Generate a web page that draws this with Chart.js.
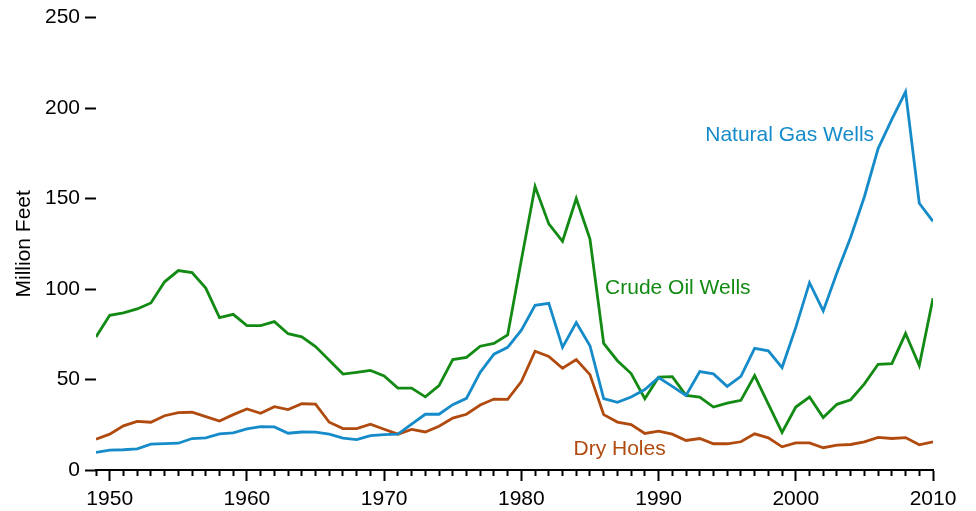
<!DOCTYPE html>
<html lang="en">
<head>
    <meta charset="UTF-8">
    <title>Footage Drilled</title>
    <script src="https://cdn.jsdelivr.net/npm/chart.js"></script>
    <style>
        body {
            margin: 0;
            background-color: #ffffff;
        }

        .chart-box {
            width: 976px;
            height: 511px;
        }
    </style>
</head>
<body>
    <div class="chart-box">
        <canvas id="footageChart"></canvas>
    </div>

    <script>
        // Years and footage (million feet)
        const years = [1949, 1950, 1951, 1952, 1953, 1954, 1955, 1956, 1957, 1958, 1959,
            1960, 1961, 1962, 1963, 1964, 1965, 1966, 1967, 1968, 1969,
            1970, 1971, 1972, 1973, 1974, 1975, 1976, 1977, 1978, 1979,
            1980, 1981, 1982, 1983, 1984, 1985, 1986, 1987, 1988, 1989,
            1990, 1991, 1992, 1993, 1994, 1995, 1996, 1997, 1998, 1999,
            2000, 2001, 2002, 2003, 2004, 2005, 2006, 2007, 2008, 2009, 2010];

        const crudeOil = [73.5, 85.5, 86.8, 89, 92.3, 104, 110.2, 109.1, 100.5, 84.2, 86,
            79.8, 79.8, 82, 75.3, 73.6, 68.2, 60.7, 53, 54, 55,
            52, 45.3, 45.3, 40.4, 46.6, 61, 62.2, 68.4, 70, 74.6,
            116, 156.6, 136, 126.4, 150, 127.6, 70, 60.4, 53.3, 39.4,
            51.3, 51.6, 41.2, 40.3, 34.8, 37, 38.5, 52.2, 36.4, 20.8,
            34.8, 40.3, 29, 36.3, 38.8, 47.6, 58.4, 58.8, 75.4, 57.7, 94.9];

        const naturalGas = [9.7, 11, 11.2, 11.7, 14.3, 14.6, 14.8, 17.4, 17.8, 20, 20.5,
            22.7, 24, 23.8, 20.3, 21, 20.9, 19.8, 17.6, 16.8, 19,
            19.6, 19.8, 25.3, 30.8, 30.8, 36.1, 39.6, 54, 64, 67.8,
            77.3, 91, 92.1, 67.8, 81.5, 68.7, 39.4, 37.4, 40.3, 44.5,
            51.1, 46.2, 41.2, 54.4, 53.1, 46.2, 51.8, 67.2, 65.9, 56.6,
            78.8, 103.5, 87.9, 109, 128.6, 151, 177.6, 193.8, 209, 147.4, 137.4];

        const dryHoles = [17, 19.8, 24.4, 26.9, 26.4, 30, 31.7, 31.9, 29.5, 27.1, 30.6,
            33.7, 31.3, 35, 33.4, 36.6, 36.4, 26.4, 22.9, 22.9, 25.3,
            22.5, 19.8, 22.4, 21, 24.2, 28.7, 30.8, 35.9, 39.2, 39,
            48.9, 65.6, 62.8, 56.2, 61, 52.7, 30.6, 26.5, 25.1, 20.2,
            21.5, 19.8, 16.3, 17.4, 14.5, 14.5, 15.6, 20, 17.8, 12.8,
            15, 15, 12.3, 13.7, 14.1, 15.6, 18, 17.4, 17.9, 13.9, 15.6];

        const seriesNames = ['Natural Gas Wells', 'Crude Oil Wells', 'Dry Holes'];
        const seriesColors = ['#168bc9', '#138a13', '#b04a0e'];
        const yTicks = [0, 50, 100, 150, 200, 250];

        // where each series name sits, in data units (year, value)
        const labelAnchors = [[1993.4, 185], [1986.1, 100.5], [1983.8, 11.5]];

        const FONT = 'Arial, "Liberation Sans", sans-serif';
        const FONT_SIZE = 21;

        const toPoints = values => values.map((v, i) => ({ x: years[i], y: v }));

        const seriesLabels = {
            id: 'seriesLabels',
            afterDatasetsDraw(chart) {
                const { ctx, scales } = chart;
                ctx.save();
                ctx.font = FONT_SIZE + 'px ' + FONT;
                ctx.textAlign = 'left';
                ctx.textBaseline = 'middle';
                seriesNames.forEach((name, i) => {
                    ctx.fillStyle = seriesColors[i];
                    ctx.fillText(name, scales.x.getPixelForValue(labelAnchors[i][0]),
                        scales.y.getPixelForValue(labelAnchors[i][1]));
                });
                ctx.restore();
            }
        };

        new Chart(document.getElementById('footageChart').getContext('2d'), {
            type: 'line',
            data: {
                datasets: [
                    { label: seriesNames[0], data: toPoints(naturalGas), borderColor: seriesColors[0] },
                    { label: seriesNames[1], data: toPoints(crudeOil), borderColor: seriesColors[1] },
                    { label: seriesNames[2], data: toPoints(dryHoles), borderColor: seriesColors[2] }
                ]
            },
            options: {
                responsive: true,
                maintainAspectRatio: false,
                animation: false,
                devicePixelRatio: 1,
                layout: { padding: { top: 15, right: 43, left: 0, bottom: 0 } },
                elements: {
                    point: { radius: 0 },
                    line: { borderWidth: 2.8, tension: 0, fill: false }
                },
                plugins: {
                    legend: { display: false },
                    tooltip: { enabled: false }
                },
                scales: {
                    x: {
                        type: 'linear',
                        min: years[0],
                        max: years[years.length - 1],
                        afterFit: scale => { scale.height = 41; },
                        border: { display: true, color: '#000', width: 2 },
                        grid: {
                            drawOnChartArea: false,
                            tickLength: 11,
                            tickColor: '#000',
                            tickWidth: 2,
                            // decade ticks run full length, the rest are short
                            tickBorderDash: ctx => (ctx.tick && ctx.tick.value % 10 === 0) ? [] : [5, 30]
                        },
                        ticks: {
                            stepSize: 1,
                            maxTicksLimit: 100,
                            autoSkip: false,
                            maxRotation: 0,
                            padding: 6,
                            color: '#000',
                            font: { family: FONT, size: FONT_SIZE },
                            callback: v => (v % 10 === 0 ? String(v) : '')
                        }
                    },
                    y: {
                        min: 0,
                        max: 250,
                        afterFit: scale => { scale.width = 96; },
                        afterBuildTicks: scale => { scale.ticks = yTicks.map(v => ({ value: v })); },
                        border: { display: false },
                        grid: {
                            drawOnChartArea: false,
                            tickLength: 11,
                            tickColor: '#000',
                            tickWidth: 2
                        },
                        ticks: {
                            padding: 5,
                            color: '#000',
                            font: { family: FONT, size: FONT_SIZE }
                        },
                        title: {
                            display: true,
                            text: 'Million Feet',
                            color: '#000',
                            padding: { top: 12, bottom: 0 },
                            font: { family: FONT, size: FONT_SIZE }
                        }
                    }
                }
            },
            plugins: [seriesLabels]
        });
    </script>
</body>
</html>
